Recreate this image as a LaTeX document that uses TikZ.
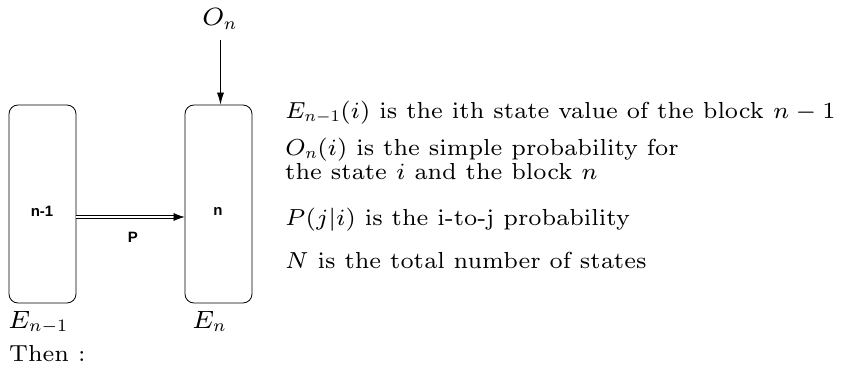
\documentclass[tikz,border=0pt]{standalone}
\usepackage{fontspec}
\newfontfamily\hvb{Liberation Sans}
\DeclareFontFamily{OML}{cmm}{\skewchar\font127 }
\DeclareFontShape{OML}{cmm}{m}{it}{<->cmmi7}{}
\DeclareFontFamily{OT1}{cmr}{\hyphenchar\font45 }
\DeclareFontShape{OT1}{cmr}{m}{n}{<->cmr7}{}
\DeclareFontFamily{OMS}{cmsy}{\skewchar\font48 }
\DeclareFontShape{OMS}{cmsy}{m}{n}{<->cmsy7}{}
\newcommand{\cmsev}{\fontencoding{OT1}\fontfamily{cmr}\fontseries{m}\fontshape{n}}
\usetikzlibrary{arrows.meta}
\begin{document}
\begin{tikzpicture}[x=1pt,y=-1pt,
  blk/.style={draw,line width=0.8pt,rounded corners=9pt,minimum width=67pt,minimum height=198pt,inner sep=0pt},
  lbl/.style={font=\hvb\bfseries\fontsize{15}{17}\selectfont,inner sep=0pt},
  mth/.style={font=\cmsev\fontsize{25}{29}\selectfont,inner sep=0pt,anchor=base west},
  txt/.style={font=\cmsev\fontsize{23.2}{27}\selectfont,inner sep=0pt,anchor=base west},
  arr/.style={-{Latex[length=12pt,width=7pt]},line width=0.7pt}]
\useasboundingbox (0,0) rectangle (844,369);
\node[blk] (b1) at (42.5,204) {};
\node[blk] (b2) at (218.5,204) {};
\node[lbl] (l1) at (42,211) {n-1};
\node[lbl] (l2) at (218,211) {n};
\node[lbl] (lp) at (133,237) {P};
\node[mth] (e1) at (8,328) {$E_{n-1}$};
\node[mth] (e2) at (192,328) {$E_n$};
\node[mth] (on) at (202,26) {$O_n$};
\node[txt] (th) at (9,361) {Then :};
\coordinate (otop) at (220.5,40);
\draw[arr] (otop) -- (b2.north -| otop);
\draw[double,double distance=2.5pt,line width=0.7pt,-{Latex[length=11pt,width=8pt]}] (b1.east |- 0,217) -- (b2.west |- 0,217);
\node[txt] (t1) at (285,118) {$E_{n-1}(i)$ is the ith state value of the block $n-1$};
\node[txt] (t2) at (285,155) {$O_n(i)$ is the simple probability for};
\node[txt] (t3) at (285,179) {the state $i$ and the block $n$};
\node[txt] (t4) at (285,225) {$P(j|i)$ is the i-to-j probability};
\node[txt] (t5) at (285,268) {$N$ is the total number of states};
\end{tikzpicture}
\end{document}
